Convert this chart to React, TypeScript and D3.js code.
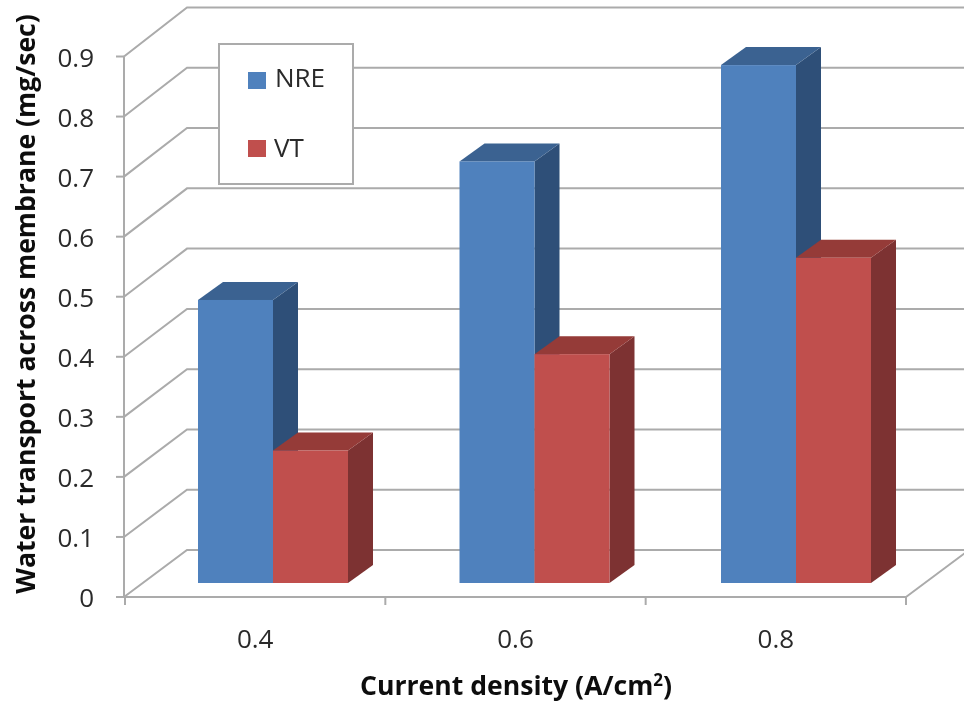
import React from "react";
import * as d3 from "d3";

const categories = ["0.4", "0.6", "0.8"];
const seriesNames = ["NRE", "VT"];
const nreValues = [0.47, 0.7, 0.86];
const vtValues = [0.22, 0.38, 0.54];
const yTicks = [0, 0.1, 0.2, 0.3, 0.4, 0.5, 0.6, 0.7, 0.8, 0.9];

const FRONT = { blue: "#4F81BD", red: "#C0504D" };
const TOP = { blue: "#3B6291", red: "#953A37" };
const SIDE = { blue: "#2F5078", red: "#7D3130" };
const GRID = "#ababab";
const TEXT = "#2b2b2b";
const FONT = "'Open Sans', sans-serif";

export default function App() {
  const y = d3.scaleLinear().domain([0, 0.9]).range([597, 56.5]);
  const yBack = d3.scaleLinear().domain([0, 0.9]).range([550, 7.5]);
  const x = d3.scaleBand<string>().domain(categories).range([125, 906]);
  const barX = d3.scalePoint<string>().domain(categories).range([198, 721]);
  const barBase = 583;
  const barY = d3.scaleLinear().domain([0, 0.9]).range([barBase, barBase - 542]);
  const wallDx = 63;
  const barDx = 25;
  const barDy = -18;
  const bw = 75;
  const series = [
    { name: seriesNames[0], values: nreValues, key: "blue" as const, shift: 0 },
    { name: seriesNames[1], values: vtValues, key: "red" as const, shift: bw },
  ];
  const line = d3.line();

  return (
    <svg width={964} height={706} style={{ position: "absolute", left: 0, top: 0, background: "#fff" }} fontFamily={FONT}>
      <defs>
        <filter id="soft" x="-5%" y="-5%" width="110%" height="110%">
          <feGaussianBlur stdDeviation="0.6" />
        </filter>
      </defs>
      <g filter="url(#soft)">
        {yTicks.map((t) => (
          <g key={t}>
            <path
              d={line([[124, y(t)], [124 + wallDx, yBack(t)], [964, yBack(t)]]) as string}
              fill="none"
              stroke={GRID}
              strokeWidth={2}
            />
            <line x1={116} x2={124} y1={y(t)} y2={y(t)} stroke={GRID} strokeWidth={2} />
          </g>
        ))}
        <line x1={124} x2={124} y1={y(0.9)} y2={y(0)} stroke={GRID} strokeWidth={2} />
        <line x1={124} x2={906} y1={y(0)} y2={y(0)} stroke={GRID} strokeWidth={2} />
        <line x1={906} x2={906 + wallDx} y1={y(0)} y2={yBack(0)} stroke={GRID} strokeWidth={2} />
        {[...categories.map((c) => x(c) as number), 906].map((tx) => (
          <line key={tx} x1={tx} x2={tx} y1={y(0)} y2={y(0) + 8} stroke={GRID} strokeWidth={2} />
        ))}
        {categories.map((c, i) =>
          series.map((s) => {
            const x0 = (barX(c) as number) + s.shift;
            const x1 = x0 + bw;
            const yt = barY(s.values[i]);
            return (
              <g key={c + s.name}>
                <path
                  d={line([[x1, yt], [x1 + barDx, yt + barDy], [x1 + barDx, barBase + barDy], [x1, barBase]]) + "Z"}
                  fill={SIDE[s.key]}
                />
                <path
                  d={line([[x0, yt], [x0 + barDx, yt + barDy], [x1 + barDx, yt + barDy], [x1, yt]]) + "Z"}
                  fill={TOP[s.key]}
                />
                <rect x={x0} y={yt} width={bw} height={barBase - yt} fill={FRONT[s.key]} />
              </g>
            );
          })
        )}
        <rect x={219} y={44} width={134} height={140} fill="#fff" stroke={GRID} strokeWidth={2} />
        <rect x={248} y={72} width={18} height={17} fill={FRONT.blue} />
        <rect x={248} y={140} width={18} height={17} fill={FRONT.red} />
        <text x={275} y={87} fontSize={26} fill={TEXT}>{seriesNames[0]}</text>
        <text x={274} y={157} fontSize={26} fill={TEXT}>{seriesNames[1]}</text>
        {yTicks.map((t) => (
          <text key={t} x={94} y={y(t) + 10} fontSize={26} fill={TEXT} textAnchor="end">
            {t === 0 ? "0" : t.toFixed(1)}
          </text>
        ))}
        {categories.map((c) => (
          <text
            key={c}
            x={(x(c) as number) + x.bandwidth() / 2}
            y={648}
            fontSize={26}
            fill={TEXT}
            textAnchor="middle"
          >
            {c}
          </text>
        ))}
        <text x={516} y={695} fontSize={26.6} fontWeight={700} fill="#111" textAnchor="middle">
          Current density (A/cm<tspan fontSize={17} dy={-9}>2</tspan><tspan dy={9}>)</tspan>
        </text>
        <text
          transform="translate(35,304) rotate(-90)"
          fontSize={26.6}
          fontWeight={700}
          fill="#111"
          textAnchor="middle"
        >
          Water transport across membrane (mg/sec)
        </text>
      </g>
    </svg>
  );
}
